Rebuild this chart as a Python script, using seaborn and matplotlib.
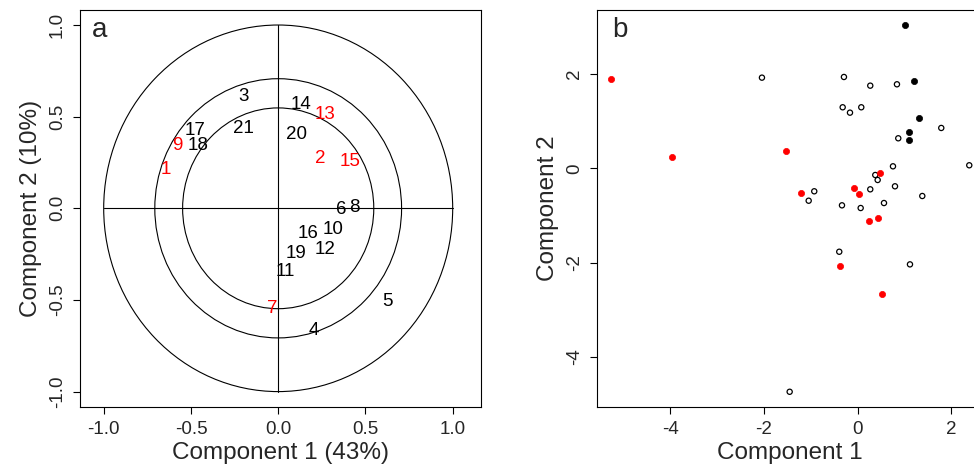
import numpy as np
import pandas as pd
import seaborn as sns
import matplotlib.pyplot as plt
from matplotlib.patches import Circle

# panel a: variable loadings on the first two components
var_ids = [str(i) for i in range(1, 22)]
load_c1 = [-0.645, 0.243, -0.20, 0.206, 0.625, 0.359, -0.034, 0.436, -0.577, 0.315,
           0.038, 0.268, 0.268, 0.128, 0.411, 0.172, -0.477, -0.458, 0.101, 0.105, -0.20]
load_c2 = [0.213, 0.269, 0.609, -0.664, -0.51, -0.004, -0.546, 0.005, 0.34, -0.118,
           -0.346, -0.224, 0.513, 0.564, 0.254, -0.136, 0.423, 0.345, -0.245, 0.40, 0.436]
highlighted = ['1', '2', '7', '9', '13', '15']
circle_radii = [1.0, np.sqrt(0.5), np.sqrt(0.3)]

# panel b: sample scores
red_c1 = [-5.274, -3.959, -1.531, -1.204, -0.079, 0.028, 0.483, 0.241, 0.44, -0.378, 0.519]
red_c2 = [1.902, 0.246, 0.367, -0.531, -0.418, -0.539, -0.093, -1.112, -1.062, -2.068, -2.675]
black_c1 = [1.017, 1.202, 1.309, 1.095, 1.102]
black_c2 = [3.042, 1.853, 1.075, 0.764, 0.601]
open_c1 = [-2.044, -0.293, 0.269, 0.839, -0.320, -0.164, 0.077, 1.785, 0.867, 0.754, 2.383, 0.376,
           0.427, -0.927, -1.046, 0.269, 0.797, 1.38, -0.335, 0.064, 0.562, -0.393, 1.117, -1.452]
open_c2 = [1.924, 1.938, 1.754, 1.783, 1.295, 1.181, 1.295, 0.856, 0.637, 0.042, 0.064, -0.142,
           -0.248, -0.488, -0.688, -0.446, -0.382, -0.588, -0.786, -0.843, -0.737, -1.771, -2.039, -4.743]

sns.set_style("ticks")
plt.rcParams['font.family'] = ['Liberation Sans', 'DejaVu Sans']
plt.rcParams['axes.linewidth'] = 0.8
plt.rcParams['axes.unicode_minus'] = False

fig = plt.figure(figsize=(9.74, 4.71), dpi=100)
ax_a = fig.add_axes([0.0821, 0.1359, 0.4117, 0.8429])
ax_b = fig.add_axes([0.6126, 0.1365, 0.3973, 0.8423])

# ---- panel a
for r in circle_radii:
    ax_a.add_patch(Circle((0, 0), r, fill=False, color='black', lw=0.8))
ax_a.plot([-1, 1], [0, 0], color='black', lw=0.8)
ax_a.plot([0, 0], [-1, 1], color='black', lw=0.8)

df_a = pd.DataFrame({'id': var_ids, 'c1': load_c1, 'c2': load_c2})
for _, row in df_a.iterrows():
    col = 'red' if row['id'] in highlighted else 'black'
    ax_a.text(row['c1'], row['c2'], row['id'], color=col, fontsize=13.5,
              ha='center', va='center')

ax_a.set_xlim(-1.136, 1.162)
ax_a.set_ylim(-1.084, 1.082)
ax_a.set_xticks([-1.0, -0.5, 0.0, 0.5, 1.0])
ax_a.set_yticks([-1.0, -0.5, 0.0, 0.5, 1.0])
ax_a.set_xticklabels(['-1.0', '-0.5', '0.0', '0.5', '1.0'])
ax_a.set_yticklabels(['-1.0', '-0.5', '0.0', '0.5', '1.0'])
ax_a.set_xlabel('Component 1 (43%)', fontsize=17.5, labelpad=3)
ax_a.set_ylabel('Component 2 (10%)', fontsize=17.5, labelpad=5)
ax_a.text(0.03, 0.95, 'a', transform=ax_a.transAxes, fontsize=20, ha='left', va='center')

# ---- panel b
sns.scatterplot(x=open_c1, y=open_c2, ax=ax_b, marker='o', s=14, facecolor='none',
                edgecolor='black', linewidth=0.9)
sns.scatterplot(x=black_c1, y=black_c2, ax=ax_b, marker='o', s=20, color='black',
                edgecolor='black', linewidth=0.5)
sns.scatterplot(x=red_c1, y=red_c2, ax=ax_b, marker='o', s=20, color='red',
                edgecolor='red', linewidth=0.5)
ax_b.set_xlim(-5.573, 2.69)
ax_b.set_ylim(-5.06, 3.36)
ax_b.set_xticks([-4, -2, 0, 2])
ax_b.set_yticks([-4, -2, 0, 2])
ax_b.set_xlabel('Component 1', fontsize=17.5, labelpad=3)
ax_b.set_ylabel('Component 2', fontsize=17.5, labelpad=5)
ax_b.text(0.04, 0.95, 'b', transform=ax_b.transAxes, fontsize=20, ha='left', va='center')

for ax in (ax_a, ax_b):
    for s in ax.spines.values():
        s.set_visible(True)
        s.set_color('black')
    ax.tick_params(direction='out', length=5, width=0.8, labelsize=13.5, pad=5, color='black')
    for lab in ax.get_yticklabels():
        lab.set_rotation(90)
        lab.set_va('center')

fig.savefig('out.png', dpi=100)
